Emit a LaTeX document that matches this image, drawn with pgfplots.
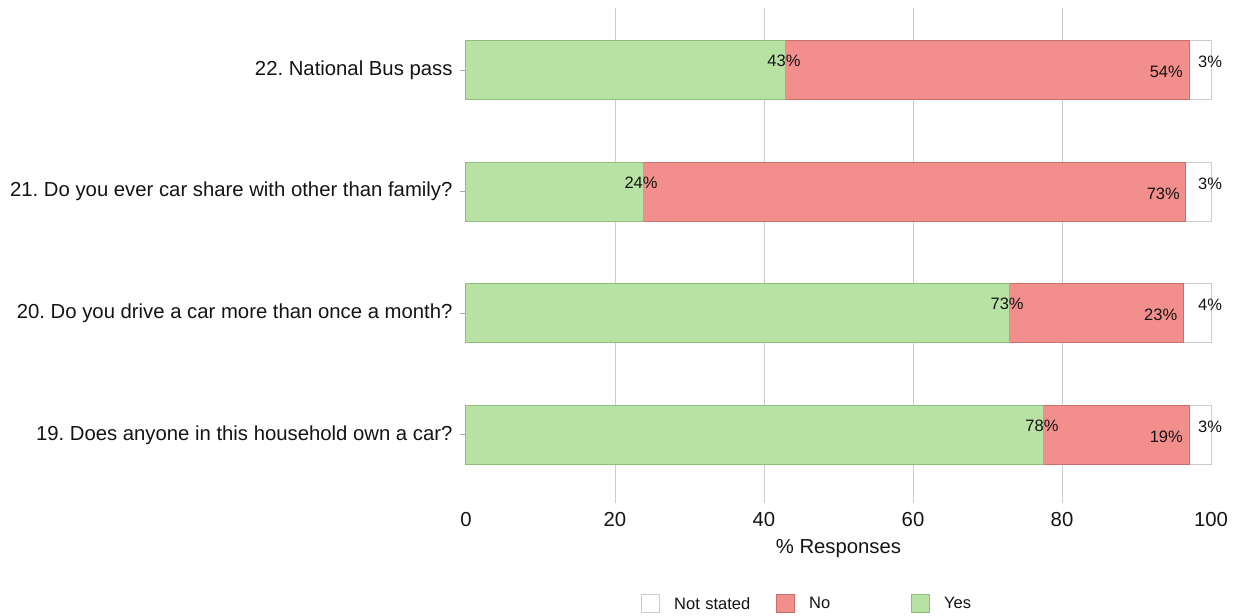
\documentclass[border=0pt]{standalone}
\usepackage{pgfplots}
\pgfplotsset{compat=1.18}
\usepackage{fontspec}
\setmainfont{Liberation Sans}
\frenchspacing
\definecolor{yesfill}{HTML}{B8E2A4}
\definecolor{yesdraw}{HTML}{8FBC7D}
\definecolor{nofill}{HTML}{F28E8C}
\definecolor{nodraw}{HTML}{C7706E}
\definecolor{nsdraw}{HTML}{CCCCCC}
\definecolor{gridc}{HTML}{CCCCCC}
\definecolor{txt}{HTML}{141414}
\tikzset{lbl/.style={font=\fontsize{16.5}{19}\selectfont, text=txt, inner sep=0pt}}
\begin{document}
\begin{tikzpicture}
\useasboundingbox (-466pt,-112pt) rectangle (772pt,503pt);
\begin{axis}[
  scale only axis, width=745pt, height=495pt,
  xbar stacked, bar width=0.485,
  xmin=0, xmax=100, ymin=-0.56, ymax=3.51,
  clip=false,
  axis line style={draw=none},
  xtick={0,20,40,60,80,100},
  extra x ticks={20,40,60,80},
  extra x tick labels={},
  extra x tick style={grid=major},
  major grid style={draw=gridc, line width=0.8pt},
  xtick style={draw=none},
  major tick length=6pt,
  ytick={0,1,2,3},
  yticklabels={19. Does anyone in this household own a car?,20. Do you drive a car more than once a month?,21. Do you ever car share with other than family?,22. National Bus pass},
  ytick pos=left, tick align=outside,
  ytick style={draw=gray!70, line width=0.8pt},
  /pgf/number format/assume math mode=true,
  ticklabel style={font=\fontsize{20.3}{24}\selectfont, text=txt},
  yticklabel style={xshift=-4pt},
  xlabel={\% Responses},
  xlabel style={font=\fontsize{20.3}{24}\selectfont, text=txt, at={(axis description cs:0.5,-0.093)}, anchor=center},
  legend columns=3,
  reverse legend,
  legend image code/.code={\draw[#1] (0pt,-9pt) rectangle (18pt,9pt);},
  legend style={draw=none, at={(axis description cs:0.507,-0.204)}, anchor=center,
    font=\fontsize{16.5}{19}\selectfont, text=txt,
    /tikz/every odd column/.append style={column sep=14pt},
    /tikz/every even column/.append style={column sep=0pt},
    nodes={inner sep=0pt, text width=102pt, align=left}},
]
\addplot[fill=yesfill, draw=yesdraw, line width=1pt]
  coordinates {(77.58,0) (72.9,1) (23.76,2) (42.95,3)};
\addlegendentry{Yes}
\addplot[fill=nofill, draw=nodraw, line width=1pt]
  coordinates {(19.47,0) (23.4,1) (72.88,2) (54.1,3)};
\addlegendentry{No}
\addplot[fill=white, draw=nsdraw, line width=1pt]
  coordinates {(2.95,0) (3.7,1) (3.36,2) (2.95,3)};
\addlegendentry{Not stated}
% anchor points for the value labels
\coordinate (y0) at (axis cs:77.58,0);
\coordinate (y1) at (axis cs:72.9,1);
\coordinate (y2) at (axis cs:23.76,2);
\coordinate (y3) at (axis cs:42.95,3);
\coordinate (n0) at (axis cs:97.05,0);
\coordinate (n1) at (axis cs:96.3,1);
\coordinate (n2) at (axis cs:96.64,2);
\coordinate (n3) at (axis cs:97.05,3);
\coordinate (s0) at (axis cs:100,0);
\coordinate (s1) at (axis cs:100,1);
\coordinate (s2) at (axis cs:100,2);
\coordinate (s3) at (axis cs:100,3);
\end{axis}
% Yes labels
\node[lbl, anchor=center, xshift=-2pt, yshift=9pt] at (y0) {78\%};
\node[lbl, anchor=center, xshift=-2pt, yshift=9pt] at (y1) {73\%};
\node[lbl, anchor=center, xshift=-2pt, yshift=9pt] at (y2) {24\%};
\node[lbl, anchor=center, xshift=-2pt, yshift=9pt] at (y3) {43\%};
% No labels
\node[lbl, anchor=east, xshift=-6pt, yshift=-2pt] at (n0) {19\%};
\node[lbl, anchor=east, xshift=-6pt, yshift=-2pt] at (n1) {23\%};
\node[lbl, anchor=east, xshift=-6pt, yshift=-2pt] at (n2) {73\%};
\node[lbl, anchor=east, xshift=-6pt, yshift=-2pt] at (n3) {54\%};
% Not stated labels
\node[lbl, anchor=west, xshift=-13pt, yshift=8pt] at (s0) {3\%};
\node[lbl, anchor=west, xshift=-13pt, yshift=8pt] at (s1) {4\%};
\node[lbl, anchor=west, xshift=-13pt, yshift=8pt] at (s2) {3\%};
\node[lbl, anchor=west, xshift=-13pt, yshift=8pt] at (s3) {3\%};
\end{tikzpicture}
\end{document}
